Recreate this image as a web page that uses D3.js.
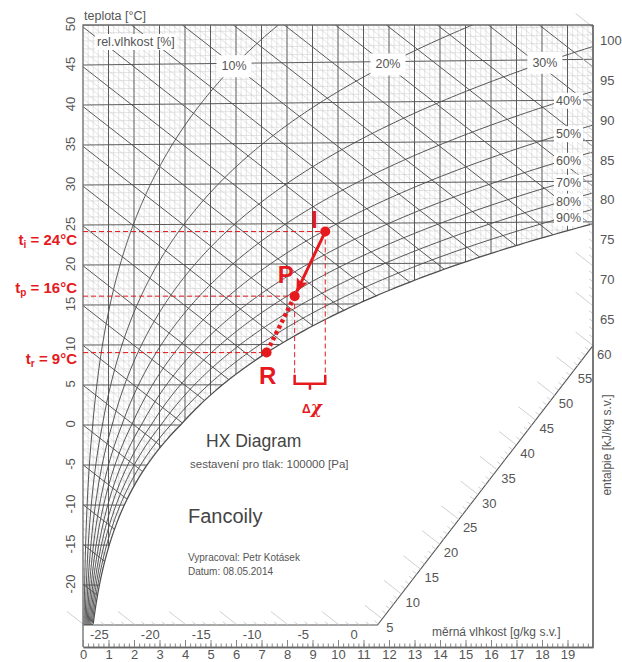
<!DOCTYPE html>
<html><head><meta charset="utf-8">
<script src="https://cdn.jsdelivr.net/npm/d3@7"></script>
<style>body{margin:0;background:#fff} svg{display:block;font-family:"Liberation Sans",Arial,sans-serif}</style>
</head><body><svg id="c" width="622" height="662"></svg>
<script>
// ---- data ----
const pressurePa = 100000;
const rhLevels = [10,20,30,40,50,60,70,80,90];
const rhTopLabels = [10,20,30];
const rhSideLabels = [40,50,60,70,80,90];
const tempLabels = [50,45,40,35,30,25,20,15,10,5,0,-5,-10,-15,-20];
const xLabels = [0,1,2,3,4,5,6,7,8,9,10,11,12,13,14,15,16,17,18,19];
const hRightLabels = [100,95,90,85,80,75,70,65];
const hDiagLabels = [60,55,50,45,40,35,30,25,20,15,10,5];
const hBottomLabels = [-25,-20,-15,-10,-5,0];
const states = [{name:"I", t:24, x:9.5},{name:"P", t:16, x:8.3},{name:"R", t:9, x:7.2}];
const stateTemps = [{sub:"i", val:"24"},{sub:"p", val:"16"},{sub:"r", val:"9"}];

// ---- model ----
const K = 0.0008;
const ps = t => t>=0 ? 611.2*Math.exp(17.62*t/(243.12+t)) : 611.2*Math.exp(22.46*t/(272.62+t));
const xOf = (t,phi) => { const pv = phi*ps(t); return 622*pv/(pressurePa-pv); };
const Yof = (t,x) => 1.005*t + K*x*t;
const X = d3.scaleLinear([0,20],[83,593]);
const Ys = d3.scaleLinear([-25.125,50.25],[625,25]);
const px = (t,x) => [X(x), Ys(Yof(t,x))];
const Ytop = 50.25, Ybot = -25.125;
function tAtX(phi, xt){ let lo=-30, hi=80; for(let i=0;i<60;i++){const m=(lo+hi)/2; if(xOf(m,phi)<xt) lo=m; else hi=m;} return (lo+hi)/2; }
function rhPoints(phi){
  const tEnd = Math.min(56, tAtX(phi,20)); const pts=[];
  for(let t=-25;t<tEnd;t+=0.25) pts.push(px(t,xOf(t,phi)));
  pts.push(px(tEnd,xOf(tEnd,phi))); return pts;
}

const svg = d3.select("#c");
svg.append("rect").attr("width",622).attr("height",662).attr("fill","#fff");
const defs = svg.append("defs");
const satPts = rhPoints(1);
const region = [[X(0),Ys(Ytop)],[X(20),Ys(Ytop)], ...satPts.slice().reverse(), [X(0),Ys(Ybot)]];
defs.append("clipPath").attr("id","unsat").append("path").attr("d", d3.line()(region)+"Z");
defs.append("clipPath").attr("id","frame").append("rect").attr("x",X(0)).attr("y",Ys(Ytop)).attr("width",X(20)-X(0)).attr("height",Ys(Ybot)-Ys(Ytop));
defs.append("marker").attr("id","arr").attr("markerUnits","userSpaceOnUse").attr("markerWidth",16).attr("markerHeight",14)
  .attr("refX",13).attr("refY",6).attr("orient","auto")
  .append("path").attr("d","M0,0 L14,6 L0,12 L3,6 Z").attr("fill","#e5191e");

const L = d3.line();
const rWidth = 20;
// light mesh
const gl = svg.append("g").attr("clip-path","url(#unsat)").attr("fill","none").attr("stroke","#cdcdcd").attr("stroke-width",0.55);
d3.range(-25,51,1).filter(t=>t%5!==0).forEach(t=>gl.append("path").attr("d",L([px(t,0),px(t,rWidth)])));
d3.range(1,100).filter(i=>i%5!==0).map(i=>i*0.2).forEach(x=>gl.append("path").attr("d",L([[X(x),Ys(Ytop)],[X(x),Ys(Ybot)]])));
d3.range(-25,101,1).filter(h=>h%5!==0).forEach(h=>gl.append("path").attr("d",L([[X(0),Ys(h)],[X(20),Ys(h-2.501*20)]])));
// dark grid
const gd = svg.append("g").attr("clip-path","url(#unsat)").attr("fill","none").attr("stroke","#525252").attr("stroke-width",0.95);
d3.range(-25,51,5).forEach(t=>gd.append("path").attr("d",L([px(t,0),px(t,rWidth)])));
d3.range(1,20).forEach(x=>gd.append("path").attr("d",L([[X(x),Ys(Ytop)],[X(x),Ys(Ybot)]])));
d3.range(-25,101,5).forEach(h=>gd.append("path").attr("d",L([[X(0),Ys(h)],[X(20),Ys(h-2.501*20)]])));
// RH curves
const gr = svg.append("g").attr("clip-path","url(#frame)").attr("fill","none").attr("stroke","#4e4e4e").attr("stroke-width",0.95);
rhLevels.forEach(r=>gr.append("path").attr("d",L(rhPoints(r/100))));
gr.append("path").attr("d",L(satPts)).attr("stroke-width",1.25);

// boundary (bottom + diagonal)
const cornerX = 11.55;
const hTopDiag = 60;
const diagA = [cornerX, Ybot], diagB = [20, hTopDiag-2.501*20];
const h0 = Ybot + 2.501*cornerX;
const diagPt = h => { const s=(h-h0)/(hTopDiag-h0); const x=diagA[0]+s*(diagB[0]-diagA[0]); const Y=diagA[1]+s*(diagB[1]-diagA[1]); return [X(x),Ys(Y)]; };
const botPt = h => [X((h-Ybot)/2.501), Ys(Ybot)];
const rightPt = h => [X(20), Ys(h-2.501*20)];
svg.append("path").attr("d",L([[X(0),Ys(Ybot)],[X(cornerX),Ys(Ybot)],[X(diagB[0]),Ys(diagB[1])]])).attr("fill","none").attr("stroke","#555").attr("stroke-width",1.1);

// boundary ticks along enthalpy direction
let ux = -(X(1)-X(0)), uy = -(Ys(-2.501)-Ys(0)); const un=Math.hypot(ux,uy); ux/=un; uy/=un;
const gt = svg.append("g").attr("stroke","#c4c4c4").attr("stroke-width",0.8);
function tick(p,len){ gt.append("line").attr("x1",p[0]).attr("y1",p[1]).attr("x2",p[0]+ux*len).attr("y2",p[1]+uy*len); }
d3.range(-25,Math.floor(h0)+1).forEach(h=>tick(botPt(h), h%5===0?22:5));
d3.range(Math.ceil(h0),61).forEach(h=>tick(diagPt(h), h%5===0?22:5));
d3.range(61,101).forEach(h=>tick(rightPt(h), h%5===0?22:5));

// frame
const fr = svg.append("g").attr("fill","none").attr("stroke","#6a6a6a");
fr.append("path").attr("d",L([[X(0),647],[X(0),Ys(Ytop)],[X(20),Ys(Ytop)]])).attr("stroke-width",1.3);
fr.append("path").attr("d",L([[X(20),Ys(Ytop)],[X(20),647]])).attr("stroke-width",1.8);

// x axis
const gx = svg.append("g").attr("transform","translate(0,647)");
gx.call(d3.axisBottom(X).tickValues(d3.range(0,100).map(i=>i*0.2)).tickSize(-3.5).tickSizeOuter(0).tickFormat(""));
gx.call(g=>g.selectAll(".tick line").attr("stroke","#888"));
const gx2 = svg.append("g").attr("transform","translate(0,647)");
gx2.call(d3.axisBottom(X).tickValues(xLabels).tickSize(-7).tickSizeOuter(0).tickPadding(3).tickFormat(d3.format("d")));
[gx,gx2].forEach(g=>{g.select(".domain").attr("stroke","#666").attr("stroke-width",1.5); g.selectAll("text").attr("font-size",13).attr("fill","#555").attr("font-family","Liberation Sans, Arial, sans-serif");});
gx2.selectAll(".tick line").attr("stroke","#888");

const txt = (x,y,s,o={}) => { const t=svg.append("text").attr("x",x).attr("y",y).text(s).attr("fill",o.fill||"#555").attr("font-size",o.size||12.5).attr("text-anchor",o.anchor||"start"); if(o.weight) t.attr("font-weight",o.weight); return t; };

// temp labels (left)
const T = d3.scaleLinear([-25,50],[Ys(Ybot),Ys(Ytop)]);
tempLabels.forEach(t=>svg.append("text").attr("transform",`translate(75,${T(t)-1}) rotate(-90)`).attr("text-anchor","middle").attr("font-size",13).attr("fill","#555").text(t));
// enthalpy labels
hRightLabels.forEach(h=>{const p=rightPt(h); txt(p[0]+7,p[1]+18,h,{size:13});});
hDiagLabels.forEach(h=>{const p=diagPt(h); txt(p[0]+4,p[1]+13,h,{size:13});});
hBottomLabels.forEach(h=>{const p=botPt(h); txt(p[0]+15,p[1]+14,h,{size:13,anchor:"middle"});});

// labels with halo
function haloText(x,y,s,o={}){
  const g=svg.append("g"); const r=g.append("rect").attr("fill","#fff");
  const t=g.append("text").attr("x",x).attr("y",y).text(s).attr("fill","#555").attr("font-size",o.size||12.5).attr("text-anchor",o.anchor||"middle");
  const b=t.node().getBBox(); const pd=o.pad||3;
  r.attr("x",b.x-pd).attr("y",b.y-pd+1).attr("width",b.width+2*pd).attr("height",b.height+2*pd-2);
}
rhTopLabels.forEach(r=>{const t=44.7, x=xOf(t,r/100); const p=px(t,x); haloText(p[0],p[1]+4.5,r+"%",{pad:5});});
rhSideLabels.forEach(r=>{const t=tAtX(r/100,19); const p=px(t,19); haloText(p[0]+1,p[1]+5.5,r+"%",{pad:2});});
haloText(97,46,"rel.vlhkost [%]",{anchor:"start",pad:2});

// axis titles
txt(84,20,"teplota [°C]",{size:12.5});
txt(432,636,"měrná vlhkost [g/kg s.v.]",{size:12});
svg.append("text").attr("transform","translate(611,445) rotate(-90)").attr("text-anchor","middle").attr("font-size",12).attr("fill","#555").text("entalpie [kJ/kg s.v.]");

// title block
txt(206,447,"HX Diagram",{size:17.5,fill:"#444"});
txt(190,468,"sestavení pro tlak: 100000 [Pa]",{size:11.5});
txt(188,523,"Fancoily",{size:20,fill:"#444"});
txt(188,561,"Vypracoval: Petr Kotásek",{size:10});
txt(188,575,"Datum: 08.05.2014",{size:10});

// ---- annotations ----
const red = "#e5191e";
const P = states.map(s=>({...s, p:px(s.t,s.x)}));
const ga = svg.append("g");
P.forEach(s=>ga.append("line").attr("x1",X(0)).attr("y1",s.p[1]).attr("x2",s.p[0]).attr("y2",s.p[1]).attr("stroke",red).attr("stroke-width",1).attr("stroke-dasharray","5,3"));
const bY = Ys(6.3);
[P[0],P[1]].forEach(s=>ga.append("line").attr("x1",s.p[0]).attr("y1",s.p[1]).attr("x2",s.p[0]).attr("y2",bY).attr("stroke",red).attr("stroke-width",1).attr("stroke-dasharray","5,3"));
const xa=P[1].p[0], xb=P[0].p[0], mid=(xa+xb)/2;
ga.append("path").attr("d",`M${xa},${bY} L${xa},${bY+9} L${xb},${bY+9} L${xb},${bY} M${mid},${bY+9} L${mid},${bY+15}`).attr("fill","none").attr("stroke",red).attr("stroke-width",2.5);
const dt = ga.append("text").attr("x",mid+2).attr("y",bY+38).attr("text-anchor","middle").attr("fill",red).attr("font-weight","bold");
dt.append("tspan").attr("font-size",12).text("Δ");
dt.append("tspan").attr("font-size",17).attr("font-style","italic").attr("font-family","DejaVu Serif, serif").text("χ");
// arrow I->P
{ const a=P[0].p, b=P[1].p; const dx=b[0]-a[0], dy=b[1]-a[1], d=Math.hypot(dx,dy);
  ga.append("line").attr("x1",a[0]).attr("y1",a[1]).attr("x2",b[0]-dx/d*5).attr("y2",b[1]-dy/d*5).attr("stroke",red).attr("stroke-width",3).attr("marker-end","url(#arr)"); }
ga.append("line").attr("x1",P[1].p[0]).attr("y1",P[1].p[1]).attr("x2",P[2].p[0]).attr("y2",P[2].p[1]).attr("stroke",red).attr("stroke-width",4.5).attr("stroke-dasharray","3.5,3");
P.forEach(s=>ga.append("circle").attr("cx",s.p[0]).attr("cy",s.p[1]).attr("r",5).attr("fill",red));
const letterOff = {I:[-11,-4], P:[-9,-13], R:[1,31]};
P.forEach(s=>ga.append("text").attr("x",s.p[0]+letterOff[s.name][0]).attr("y",s.p[1]+letterOff[s.name][1]).attr("text-anchor","middle").attr("font-size",24).attr("font-weight","bold").attr("fill",red).text(s.name));
const tempOff = [13,-3,11];
stateTemps.forEach((s,i)=>{
  const t=ga.append("text").attr("x",77).attr("y",P[i].p[1]+tempOff[i]).attr("text-anchor","end").attr("font-size",15).attr("font-weight","bold").attr("fill",red);
  t.append("tspan").text("t");
  t.append("tspan").attr("font-size",10).attr("dy",3).text(s.sub);
  t.append("tspan").attr("dy",-3).text(" = "+s.val+"°C");
});
</script></body></html>
